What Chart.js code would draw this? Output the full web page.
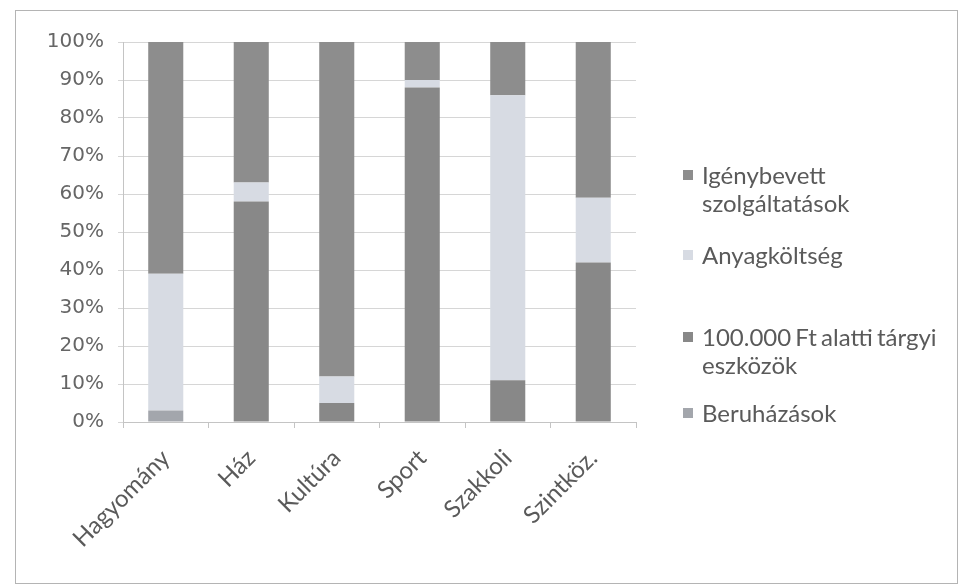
<!DOCTYPE html>
<html><head><meta charset="utf-8">
<script src="https://cdn.jsdelivr.net/npm/chart.js@4"></script>
<style>
html,body{margin:0;padding:0;background:#fff;}
#wrap{position:relative;width:959px;height:588px;overflow:hidden;}
#frame{position:absolute;left:15px;top:10px;width:943px;height:574px;border:1px solid #b4b4b4;box-sizing:border-box;}
#c{position:absolute;left:0;top:0;}
#legend{position:absolute;left:683px;top:0;font-family:Lato,"Open Sans",sans-serif;font-size:24px;color:#5a5a5a;}
.li{position:absolute;left:0;white-space:nowrap;line-height:28px;}
.sw{position:absolute;left:0;top:9px;width:10px;height:10px;}
.tx{position:absolute;left:19px;top:0;word-spacing:-2px;}
</style></head>
<body><div id="wrap"><div id="frame"></div><canvas id="c" width="959" height="588"></canvas><div id="legend"></div></div>
<script>
const categories = ["Hagyomány","Ház","Kultúra","Sport","Szakkoli","Szintköz."];
const beruhazasok = [3, 0, 0, 0, 0, 0];
const targyiEszkozok = [0, 58, 5, 88, 11, 42];
const anyagkoltseg = [36, 5, 7, 2, 75, 17];
const igenybevett = [61, 37, 88, 10, 14, 41];
const yTicks = ["0%","10%","20%","30%","40%","50%","60%","70%","80%","90%","100%"];
const seriesNames = ["Beruházások","100.000 Ft alatti tárgyi eszközök","Anyagköltség","Igénybevett szolgáltatások"];
const legendLines = [["Igénybevett","szolgáltatások"],["Anyagköltség"],["100.000 Ft alatti tárgyi","eszközök"],["Beruházások"]];
const colors = ["#a3a6ac","#888888","#d7dbe3","#8d8d8d"];

const data = [beruhazasok, targyiEszkozok, anyagkoltseg, igenybevett];
const datasets = data.map((d,i)=>({label:seriesNames[i],data:d,backgroundColor:colors[i],borderWidth:0,barPercentage:0.41,categoryPercentage:1}));

new Chart(document.getElementById('c'),{
  type:'bar',
  data:{labels:categories,datasets},
  options:{
    responsive:false,animation:false,
    layout:{padding:{left:0,right:323,top:42,bottom:0}},
    plugins:{legend:{display:false},tooltip:{enabled:false}},
    scales:{
      x:{stacked:true,
        grid:{offset:true,drawOnChartArea:false,color:'#c4c4c4',tickLength:6},
        border:{color:'#c4c4c4'},
        ticks:{maxRotation:45,minRotation:45,color:'#5a5a5a',font:{family:'Lato,"Open Sans",sans-serif',size:24},padding:16},
        afterFit:s=>{s.height=166;}
      },
      y:{stacked:true,min:0,max:100,
        grid:{color:'#d6d6d6',tickLength:5},
        border:{color:'#c4c4c4'},
        ticks:{stepSize:10,color:'#666',font:{family:'"DejaVu Sans",sans-serif',size:20},padding:14,callback:(v,i)=>yTicks[i]},
        afterFit:s=>{s.width=123;}
      }
    }
  }
});

const lg=document.getElementById('legend');
const tops=[161,241,323,399];
const order=[3,2,1,0];
legendLines.forEach((lines,k)=>{
  const it=document.createElement('div');it.className='li';it.style.top=tops[k]+'px';
  const sw=document.createElement('div');sw.className='sw';sw.style.background=colors[order[k]];
  const tx=document.createElement('div');tx.className='tx';tx.innerHTML=lines.join('<br>');
  it.appendChild(sw);it.appendChild(tx);lg.appendChild(it);
});
</script></body></html>
